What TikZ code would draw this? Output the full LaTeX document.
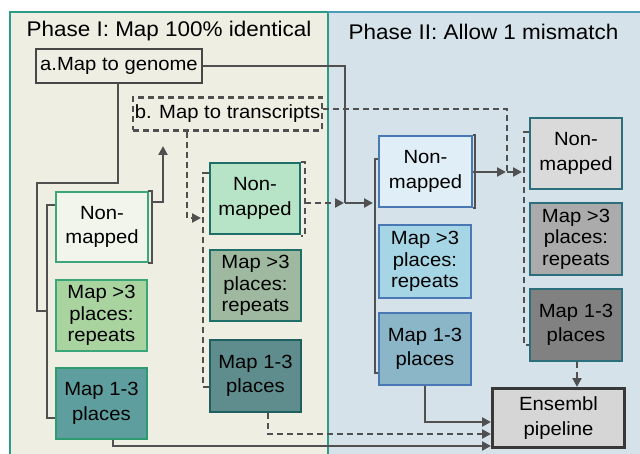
\documentclass[tikz,border=0pt]{standalone}
\usepackage{fontspec}
\setmainfont{Liberation Sans}[FakeStretch=1.06]
\usetikzlibrary{arrows.meta}
\definecolor{bgI}{HTML}{EEEFE2}
\definecolor{bgII}{HTML}{D5E2EA}
\definecolor{edgeI}{HTML}{2E9A88}
\definecolor{edgeII}{HTML}{4A9DB8}
\definecolor{lgreen}{HTML}{3BA67A}
\definecolor{dteal}{HTML}{1E6E6A}
\definecolor{pblue}{HTML}{4A78B4}
\definecolor{rteal}{HTML}{2B6F7C}
\definecolor{conncol}{HTML}{505050}
\begin{document}
\begin{tikzpicture}[x=1pt,y=-1pt,
  boxbase/.style={draw, line width=2.5pt, align=center, inner sep=0pt, text=black},
  twoline/.style={boxbase, font=\fontsize{19.1}{24.5}\selectfont},
  threeline/.style={boxbase, font=\fontsize{19.1}{21.5}\selectfont},
  conn/.style={draw=conncol, line width=2.3pt},
  dconn/.style={conn, dash pattern=on 6pt off 4pt},
  tip/.style={-{Triangle[length=9pt,width=9pt]}},
  titletext/.style={font=\fontsize{21.2}{24}\selectfont, anchor=base, inner sep=0pt}
]
\useasboundingbox (0,0) rectangle (640,454);
\clip (0,0) rectangle (640,454);
\fill[white] (0,0) rectangle (640,454);
% panels
\fill[bgI] (10,12) rectangle (328,460);
\fill[bgII] (328,12) rectangle (650,460);
\draw[edgeI, line width=1.6pt] (10,460) -- (10,12) -- (328,12) -- (328,460);
\draw[edgeII, line width=1.6pt] (328,12) -- (650,12);
\node[titletext] (t1) at (169,37) {Phase I: Map 100\% identical};
\node[titletext] (t2) at (483.5,40) {Phase II: Allow 1 mismatch};

% top boxes
\node[boxbase, fill=bgI, draw=black!72, line width=2.6pt, minimum width=166pt, minimum height=34pt,
      font=\fontsize{19.1}{22}\selectfont] (a) at (119,66) {a.Map to genome};
\node[boxbase, draw=conncol, line width=2.2pt, dash pattern=on 6pt off 4pt, minimum width=189pt, minimum height=33pt,
      font=\fontsize{19.1}{22}\selectfont] (b) at (227.5,114) {b. Map to transcripts};

% Phase I left column
\node[twoline, fill={rgb,255:red,242;green,245;blue,236}, draw=lgreen, minimum width=92pt, minimum height=70pt] (Lnm) at (102,227) {Non-\\mapped};
\node[threeline, fill={rgb,255:red,169;green,212;blue,160}, draw=lgreen, minimum width=91pt, minimum height=71pt] (Lrep) at (101.5,315.5) {Map >3\\places:\\repeats};
\node[twoline, fill={rgb,255:red,95;green,158;blue,158}, draw={rgb,255:red,46;green,154;blue,112}, minimum width=91pt, minimum height=71pt] (Lmap) at (101.5,403.5) {Map 1-3\\places};

% Phase I middle column
\node[twoline, fill={rgb,255:red,183;green,228;blue,198}, draw=dteal, minimum width=90pt, minimum height=71pt] (Mnm) at (255,198.5) {Non-\\mapped};
\node[threeline, fill={rgb,255:red,158;green,185;blue,160}, draw=dteal, minimum width=91pt, minimum height=71pt] (Mrep) at (255.5,285.5) {Map >3\\places:\\repeats};
\node[twoline, fill={rgb,255:red,95;green,140;blue,140}, draw={rgb,255:red,30;green,96;blue,96}, minimum width=91pt, minimum height=72pt] (Mmap) at (255.5,376) {Map 1-3\\places};

% Phase II column
\node[twoline, fill={rgb,255:red,224;green,238;blue,247}, draw=pblue, minimum width=93pt, minimum height=71pt] (Pnm) at (425.5,171.5) {Non-\\mapped};
\node[threeline, fill={rgb,255:red,166;green,214;blue,230}, draw=pblue, minimum width=92pt, minimum height=73pt] (Prep) at (425,261.5) {Map >3\\places:\\repeats};
\node[twoline, fill={rgb,255:red,138;green,182;blue,200}, draw=pblue, minimum width=92pt, minimum height=72pt] (Pmap) at (425,349) {Map 1-3\\places};

% right column
\node[twoline, fill={rgb,255:red,218;green,218;blue,218}, draw=rteal, minimum width=92pt, minimum height=71pt] (Rnm) at (576,153.5) {Non-\\mapped};
\node[threeline, fill={rgb,255:red,171;green,171;blue,171}, draw=rteal, minimum width=92pt, minimum height=72pt] (Rrep) at (576,239) {Map >3\\places:\\repeats};
\node[twoline, fill={rgb,255:red,129;green,129;blue,129}, draw=rteal, minimum width=92pt, minimum height=72pt] (Rmap) at (576,325) {Map 1-3\\places};

% Ensembl
\node[twoline, fill={rgb,255:red,214;green,214;blue,214}, draw=black!78, line width=3pt, minimum width=132pt, minimum height=59pt] (E) at (558.5,418) {Ensembl\\pipeline};

% ---- connectors, Phase I left
\draw[conn] (a.south -| 118,84) -- (118,183) -- (37,183) -- (37,311) -- (47,311);
\draw[conn] (Lnm.west |- 0,205) -- (47,205) -- (47,418) -- (Lmap.west |- 0,418);
\draw[conn] (148,191) -- (152,191) -- (152,263) -- (148,263);
\draw[conn, tip] (152,202) -- (163,202) -- (163,146);
% b to middle column
\draw[dconn, tip] (b.south -| 187,131) -- (187,218) -- (201,218);
\draw[dconn] (Mnm.west |- 0,173) -- (203,173) -- (203,387) -- (Mmap.west |- 0,387);
\draw[dconn] (301,162) -- (305,162) -- (305,236) -- (301,236);
\draw[dconn, tip] (305,203) -- (344,203);
% a to Phase II
\draw[conn] (a.east) -- (345,66) -- (345,203);
\draw[conn, tip] (345,203) -- (373,203);
\draw[conn] (Pnm.west |- 0,159) -- (375,159) -- (375,373) -- (Pmap.west |- 0,373);
% b to right column
\draw[dconn] (b.east |- 0,109) -- (507,109) -- (507,172);
\draw[dconn, tip] (507,172) -- (522,172);
\draw[conn, tip] (Pnm.east |- 0,172) -- (506,172);
\draw[conn] (473,135) -- (475,135) -- (475,208) -- (473,208);
\draw[dconn] (Rnm.west |- 0,132) -- (524,132) -- (524,345) -- (Rmap.west |- 0,345);
% to Ensembl
\draw[dconn, tip] (Rmap.south -| 577,0) -- (E.north -| 577,0);
\draw[conn, tip] (Pmap.south -| 425,0) -- (425,422) -- (E.west |- 0,422);
\draw[dconn, tip] (Mmap.south -| 268,0) -- (268,434) -- (E.west |- 0,434);
\draw[conn, tip] (Lmap.south -| 113,0) -- (113,446) -- (E.west |- 0,446);
\end{tikzpicture}
\end{document}
